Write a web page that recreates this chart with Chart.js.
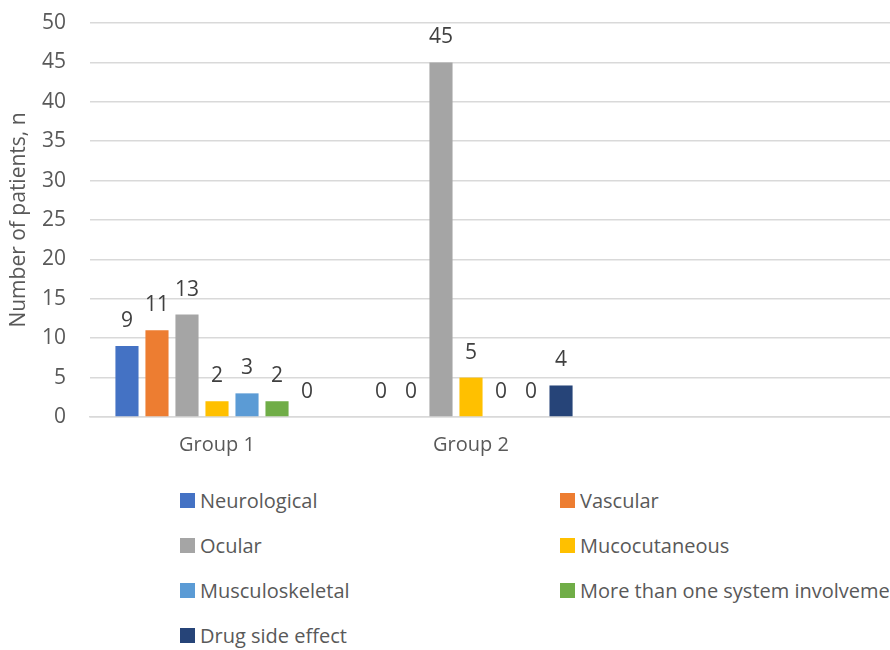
<!DOCTYPE html>
<html>
<head>
<meta charset="utf-8">
<script src="https://cdn.jsdelivr.net/npm/chart.js@4.4.1/dist/chart.umd.min.js"></script>
<style>
  html, body { margin: 0; padding: 0; background: #fff; overflow: hidden; width: 890px; height: 650px; }
  #wrap { position: absolute; left: 0; top: 0; width: 1110px; height: 467px; }
  #legend { position: absolute; left: 180px; top: 486px; display: grid; grid-template-columns: 380px 400px; row-gap: 17px;
    font-family: "Open Sans", sans-serif; font-size: 20px; color: #595959; white-space: nowrap; }
  #legend .it { display: flex; align-items: center; height: 28px; }
  #legend .sw { width: 15px; height: 15px; margin-right: 5px; flex: none; }
</style>
</head>
<body>
<div id="wrap"><canvas id="c"></canvas></div>
<div id="legend"></div>
<script>
// categories (the source figure is cropped on the right, so there are empty slots after Group 2)
const groups = ["Group 1", "Group 2", "", ""];
const systems = ["Neurological", "Vascular", "Ocular", "Mucocutaneous", "Musculoskeletal", "More than one system involvement", "Drug side effect"];
const colors = ["#4472C4", "#ED7D31", "#A5A5A5", "#FFC000", "#5B9BD5", "#70AD47", "#264478"];

const neurological    = [9, 0, null, null];
const vascular        = [11, 0, null, null];
const ocular          = [13, 45, null, null];
const mucocutaneous   = [2, 5, null, null];
const musculoskeletal = [3, 0, null, null];
const moreThanOne     = [2, 0, null, null];
const drugSideEffect  = [0, 4, null, null];
const series = [neurological, vascular, ocular, mucocutaneous, musculoskeletal, moreThanOne, drugSideEffect];

const yTicks = [0, 5, 10, 15, 20, 25, 30, 35, 40, 45, 50];

const FONT = "'Open Sans', sans-serif";

// value labels above each bar
const barLabels = {
  id: "barLabels",
  afterDatasetsDraw(chart) {
    const ctx = chart.ctx;
    ctx.save();
    ctx.font = "21px " + FONT;
    ctx.fillStyle = "#404040";
    ctx.textAlign = "center";
    ctx.textBaseline = "alphabetic";
    chart.data.datasets.forEach((ds, i) => {
      chart.getDatasetMeta(i).data.forEach((bar, j) => {
        const v = ds.data[j];
        if (v == null) return;
        ctx.fillText(String(v), bar.x, bar.y - 19);
      });
    });
    ctx.restore();
  },
};

const chart = new Chart(document.getElementById("c"), {
  type: "bar",
  data: {
    labels: groups,
    datasets: systems.map((s, i) => ({
      label: s, data: series[i], backgroundColor: colors[i],
      barPercentage: 0.77, categoryPercentage: 0.827,
    })),
  },
  options: {
    responsive: true, maintainAspectRatio: false, animation: false,
    layout: { padding: { left: 6, right: 4, top: 23, bottom: 0 } },
    plugins: { legend: { display: false }, tooltip: { enabled: false } },
    scales: {
      x: {
        afterFit: (s) => { s.height = 50; s.paddingLeft = 0; s.paddingRight = 0; },
        grid: { display: false, drawTicks: false },
        border: { display: true, color: "#d9d9d9", width: 1.5 },
        ticks: { color: "#595959", font: { family: FONT, size: 20 }, padding: 16 },
      },
      y: {
        min: 0, max: 50,
        afterBuildTicks: (s) => { s.ticks = yTicks.map((v) => ({ value: v })); },
        afterFit: (s) => { s.width = 84; s.paddingTop = 0; s.paddingBottom = 0; },
        grid: { color: "#d9d9d9", lineWidth: 1.5, drawTicks: false },
        border: { display: false },
        ticks: { color: "#595959", font: { family: FONT, size: 21 }, padding: 24 },
        title: { display: true, text: "Number of patients, n", color: "#595959", font: { family: FONT, size: 21 }, padding: 0 },
      },
    },
  },
  plugins: [barLabels],
});

// two-column legend built from the chart's datasets
document.getElementById("legend").innerHTML = chart.data.datasets.map((ds) =>
  `<div class="it"><span class="sw" style="background:${ds.backgroundColor}"></span>${ds.label}</div>`).join("");
</script>
</body>
</html>
